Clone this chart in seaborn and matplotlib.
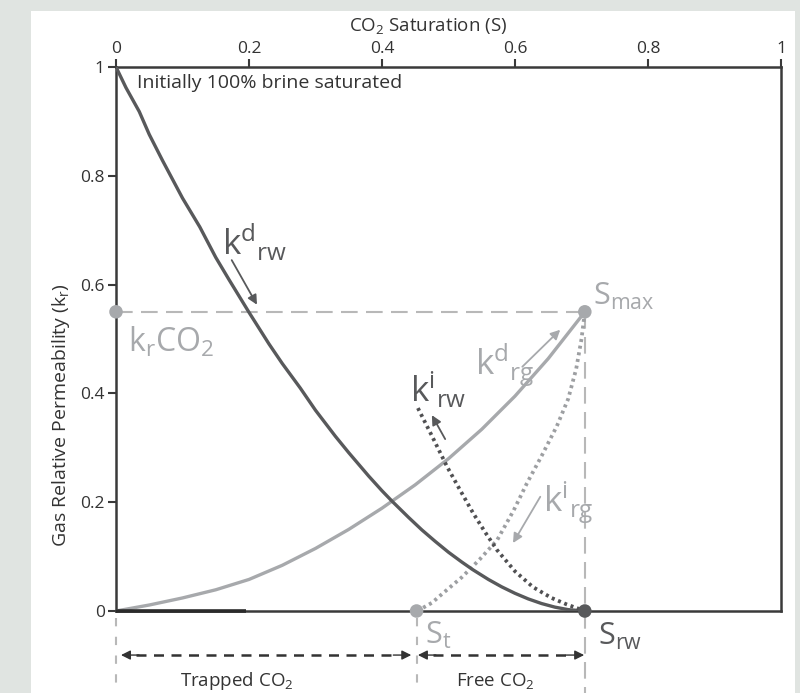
import matplotlib
matplotlib.use("Agg")
import matplotlib.pyplot as plt
import seaborn as sns
import pandas as pd
from matplotlib.patches import Rectangle

# ---- data ----
x_ticks = [0, 0.2, 0.4, 0.6, 0.8, 1]
x_tick_labels = ["0", "0.2", "0.4", "0.6", "0.8", "1"]
y_ticks = [0, 0.2, 0.4, 0.6, 0.8, 1]
y_tick_labels = ["0", "0.2", "0.4", "0.6", "0.8", "1"]

# drainage brine relative permeability k^d_rw (dark solid)
krw_d_S = [0, 0.015, 0.035, 0.05, 0.07, 0.1, 0.126, 0.15, 0.17, 0.2, 0.23, 0.25,
           0.277, 0.3, 0.33, 0.35, 0.38, 0.4, 0.415, 0.44, 0.46, 0.48, 0.5, 0.52,
           0.537, 0.56, 0.58, 0.6, 0.62, 0.64, 0.66, 0.68, 0.705]
krw_d_k = [1.0, 0.962, 0.918, 0.876, 0.828, 0.759, 0.706, 0.650, 0.609, 0.549,
           0.491, 0.455, 0.41, 0.369, 0.321, 0.291, 0.248, 0.221, 0.202, 0.172,
           0.149, 0.128, 0.108, 0.090, 0.0756, 0.058, 0.0444, 0.0325, 0.0222,
           0.0137, 0.0071, 0.0025, 0.0]

# drainage gas relative permeability k^d_rg (light solid)
krg_d_S = [0, 0.05, 0.10, 0.15, 0.20, 0.25, 0.30, 0.35, 0.40, 0.45, 0.50, 0.55,
           0.60, 0.65, 0.70, 0.705]
krg_d_k = [0, 0.011, 0.024, 0.039, 0.058, 0.084, 0.115, 0.150, 0.189, 0.232,
           0.280, 0.334, 0.395, 0.464, 0.542, 0.55]

# imbibition brine k^i_rw (dark dotted)
krw_i_S = [0.454, 0.475, 0.498, 0.518, 0.537, 0.555, 0.573, 0.60, 0.627, 0.655,
           0.678, 0.705]
krw_i_k = [0.373, 0.322, 0.265, 0.221, 0.18, 0.145, 0.112, 0.073, 0.044, 0.024,
           0.012, 0.0]

# imbibition gas k^i_rg (light dotted)
krg_i_S = [0.453, 0.475, 0.492, 0.52, 0.547, 0.573, 0.598, 0.618, 0.64, 0.663,
           0.68, 0.692, 0.700, 0.705]
krg_i_k = [0, 0.015, 0.033, 0.062, 0.095, 0.13, 0.185, 0.235, 0.285, 0.34,
           0.39, 0.445, 0.50, 0.55]

# key points
S_t = 0.452
S_max = 0.705
kr_CO2 = 0.55
pts_light_S = [0, S_max, S_t]
pts_light_k = [kr_CO2, kr_CO2, 0]
pts_dark_S = [S_max]
pts_dark_k = [0]

DARK = "#58595b"
LIGHT = "#a7a9ac"
DASHL = "#b8b8b8"
AXC = "#3a3a3a"
TXT = "#333333"

sns.set_style("white")
plt.rcParams["font.family"] = ["Open Sans", "DejaVu Sans"]
plt.rcParams["mathtext.default"] = "regular"

fig = plt.figure(figsize=(8, 6.93), dpi=100, facecolor="#e0e4e1")
bg = Rectangle((31 / 800, 0), (795 - 31) / 800, (693 - 11) / 693,
               transform=fig.transFigure, facecolor="white",
               edgecolor="none", zorder=-10)
fig.patches.append(bg)
ax = fig.add_axes([116 / 800, 1 - 611 / 693, 665 / 800, 544 / 693])
ax.set_zorder(1)
ax.set_facecolor("white")

# dashed guide lines
ax.plot([0, S_max], [kr_CO2, kr_CO2], color=DASHL, lw=1.5, ls=(0, (8, 4)), zorder=1)
ax.plot([S_max, S_max], [kr_CO2, -0.152], color=DASHL, lw=1.5, ls=(0, (8, 4)),
        zorder=1, clip_on=False)
ax.plot([0, 0], [-0.012, -0.152], color=DASHL, lw=1.5, ls=(0, (4, 5)), clip_on=False)
ax.plot([S_t, S_t], [-0.012, -0.152], color=DASHL, lw=1.5, ls=(0, (4, 5)), clip_on=False)

# curves
sns.lineplot(x=krg_d_S, y=krg_d_k, ax=ax, color=LIGHT, lw=2.4, sort=False,
             estimator=None, zorder=3)
sns.lineplot(x=krw_d_S, y=krw_d_k, ax=ax, color=DARK, lw=2.4, sort=False,
             estimator=None, zorder=4)
sns.lineplot(x=krg_i_S, y=krg_i_k, ax=ax, color="#9d9fa2", lw=2.7, sort=False,
             estimator=None, ls=(0, (0.8, 1.0)), zorder=3)
sns.lineplot(x=krw_i_S, y=krw_i_k, ax=ax, color="#505052", lw=2.7, sort=False,
             estimator=None, ls=(0, (0.8, 1.0)), zorder=4)

# thick dark segment on the bottom axis
ax.plot([0, 0.195], [0, 0], color="#2a2a2a", lw=2.6, zorder=5, clip_on=False,
        solid_capstyle="butt")

# points
sns.scatterplot(x=pts_light_S, y=pts_light_k, ax=ax, color=LIGHT, s=95,
                 edgecolor="none", zorder=6, clip_on=False)
sns.scatterplot(x=pts_dark_S, y=pts_dark_k, ax=ax, color=DARK, s=95,
                 edgecolor="none", zorder=6, clip_on=False)

ax.set_xlim(0, 1)
ax.set_ylim(0, 1)

# axes styling
for sp in ax.spines.values():
    sp.set_visible(True)
    sp.set_color(AXC)
    sp.set_linewidth(1.8)
ax.xaxis.tick_top()
ax.xaxis.set_label_position("top")
ax.set_xticks(x_ticks, x_tick_labels)
ax.set_yticks(y_ticks, y_tick_labels)
ax.tick_params(axis="x", which="both", top=True, bottom=False, direction="out",
               length=6, width=1.5, color=AXC, pad=1, labelsize=12.5,
               labelcolor=TXT)
ax.tick_params(axis="y", which="both", left=True, right=False, direction="out",
               length=6, width=1.5, color=AXC, pad=2, labelsize=12.5,
               labelcolor=TXT)
ax.set_xlabel("CO$_2$ Saturation (S)", fontsize=13.5, color=TXT)
ax.xaxis.set_label_coords(0.47, 1.066)
ax.set_ylabel("Gas Relative Permeability (k$_r$)", fontsize=14, color=TXT,
              va="center", ha="center")
ax.yaxis.set_label_coords(-0.083, 0.36)

# annotations
ax.text(0.032, 0.962, "Initially 100% brine saturated", fontsize=14,
        color=TXT, va="baseline")
ax.text(0.159, 0.654, "$k^{d}{}_{rw}$", fontsize=25, color=DARK, va="baseline")
ax.text(0.540, 0.434, "$k^{d}{}_{rg}$", fontsize=25, color=LIGHT, va="baseline")
ax.text(0.442, 0.384, "$k^{i}{}_{rw}$", fontsize=25, color=DARK, va="baseline")
ax.text(0.642, 0.182, "$k^{i}{}_{rg}$", fontsize=25, color=LIGHT, va="baseline")
ax.text(0.717, 0.5625, "$S_{max}$", fontsize=22, color=LIGHT, va="baseline")
ax.text(0.465, -0.061, "$S_{t}$", fontsize=22, color=LIGHT, va="baseline",
        clip_on=False)
ax.text(0.725, -0.0625, "$S_{rw}$", fontsize=22, color=DARK, va="baseline",
        clip_on=False)
ax.text(0.018, 0.476, "$k_rCO_2$", fontsize=23, color=LIGHT, va="baseline")

# small direction arrows
def small_arrow(p0, p1, col):
    ax.annotate("", xy=p1, xytext=p0,
                arrowprops=dict(arrowstyle="-|>", color=col, lw=1.3,
                                mutation_scale=14, shrinkA=0, shrinkB=0))

small_arrow((0.174, 0.645), (0.212, 0.563), DARK)
small_arrow((0.611, 0.449), (0.668, 0.517), LIGHT)
small_arrow((0.495, 0.316), (0.475, 0.360), DARK)
small_arrow((0.638, 0.210), (0.597, 0.125), LIGHT)

# trapped / free double arrows below the axis
ya = -0.081
for a, b in [(0.0075, 0.444), (0.454, 0.704)]:
    h = 0.022
    ax.plot([a + h, b - h], [ya, ya], color=TXT, lw=1.8, ls=(0, (4, 3)),
            clip_on=False)
    for tip, tail in [(a, a + h + 0.005), (b, b - h - 0.005)]:
        ax.annotate("", xy=(tip, ya), xytext=(tail, ya), annotation_clip=False,
                    arrowprops=dict(arrowstyle="-|>", color=TXT, lw=1,
                                    mutation_scale=14, shrinkA=0, shrinkB=0))
ax.text(0.182, -0.138, "Trapped CO$_2$", fontsize=13.5, color=TXT,
        ha="center", va="baseline", clip_on=False)
ax.text(0.571, -0.138, "Free CO$_2$", fontsize=13.5, color=TXT,
        ha="center", va="baseline", clip_on=False)

fig.savefig("out.png", dpi=100, facecolor=fig.get_facecolor())
